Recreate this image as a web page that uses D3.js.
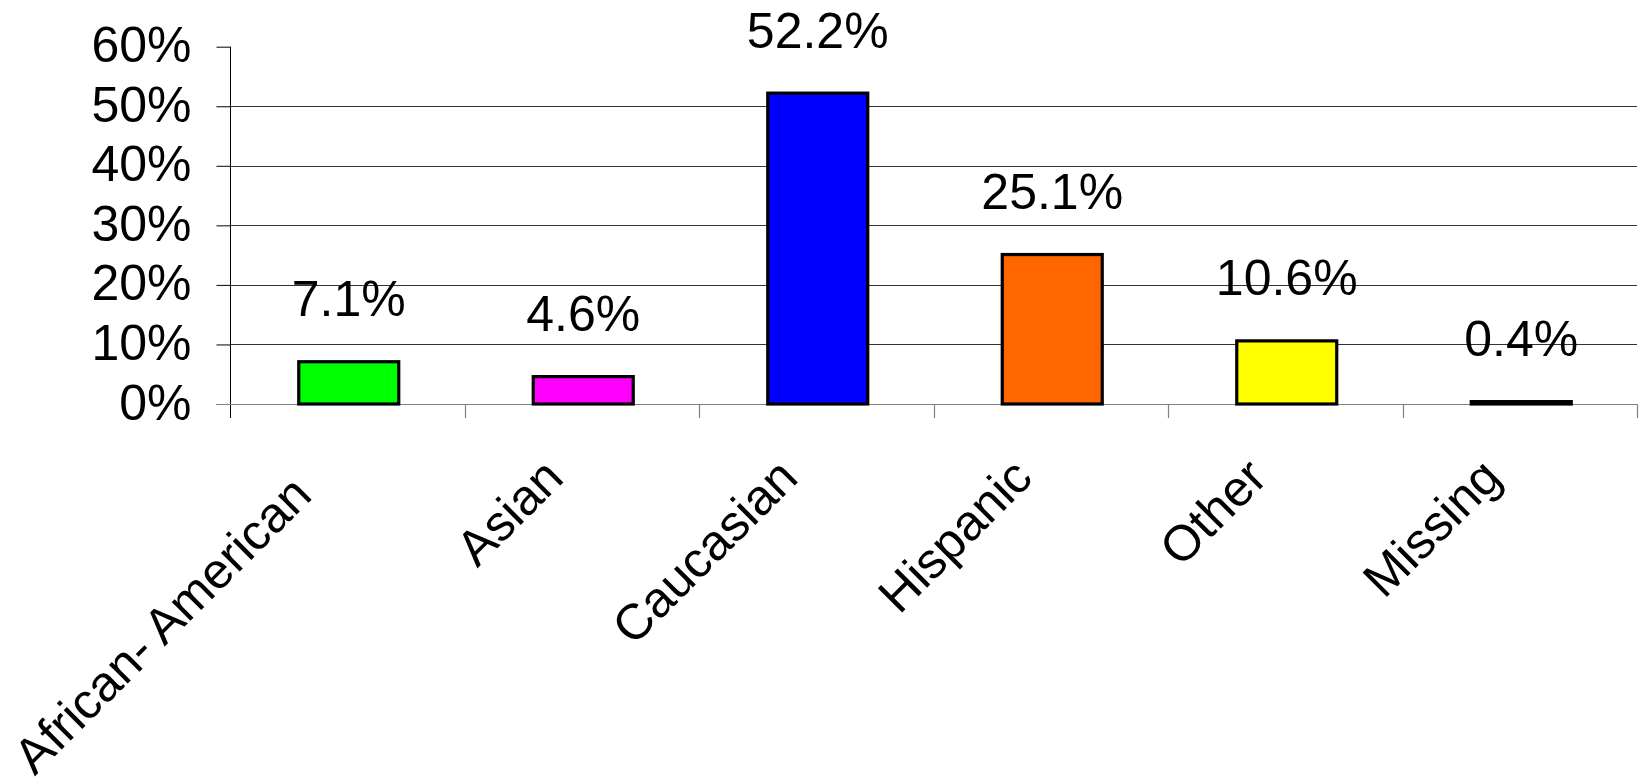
<!DOCTYPE html>
<html>
<head>
<meta charset="utf-8">
<script src="https://cdn.jsdelivr.net/npm/d3@7"></script>
<style>
  html, body { margin: 0; padding: 0; background: #fff; }
  svg { display: block; }
  text { font-family: "Liberation Sans", Arial, sans-serif; fill: #000; }
</style>
</head>
<body>
<script>
const categories = ["African- American", "Asian", "Caucasian", "Hispanic", "Other", "Missing"];
const values = [7.1, 4.6, 52.2, 25.1, 10.6, 0.4];
const colors = ["#00FF00", "#FF00FF", "#0000FF", "#FF6600", "#FFFF00", "#000000"];
const yTicks = [0, 10, 20, 30, 40, 50, 60];

(function () {
const W = 1650, H = 781;
const mLeft = 230, mRight = 1637, mTop = 46.7, mBottom = 404;

const svg = d3.select("body").append("svg").attr("width", W).attr("height", H);

const y = d3.scaleLinear().domain([0, 60]).range([mBottom, mTop]);
const xEdge = d3.scaleBand().domain(categories).range([mLeft, mRight]).padding(0);
const x = d3.scaleBand().domain(categories).range([mLeft, mRight])
  .paddingInner(0.5736).paddingOuter(0.2868);

// gridlines (not at 0 or 60)
svg.append("g").selectAll("line")
  .data(yTicks.filter(t => t > 0 && t < 60))
  .join("line")
  .attr("x1", mLeft).attr("x2", mRight)
  .attr("y1", d => Math.round(y(d)) + 0.5).attr("y2", d => Math.round(y(d)) + 0.5)
  .attr("stroke", "#333").attr("stroke-width", 1);

// y axis
const yAxis = d3.axisLeft(y).tickValues(yTicks).tickFormat(d => d + "%")
  .tickSize(14).tickPadding(25);
const gy = svg.append("g").attr("transform", `translate(${mLeft + 0.5},0)`).call(yAxis);
gy.select(".domain").remove();
gy.selectAll(".tick line").attr("stroke", "#000");
gy.selectAll(".tick text")
  .attr("font-size", 50)
  .attr("font-family", '"Liberation Sans", Arial, sans-serif')
  .attr("dy", "0.3em")
  .attr("fill", "#000");
svg.append("line").attr("x1", mLeft + 0.5).attr("x2", mLeft + 0.5)
  .attr("y1", mTop).attr("y2", mBottom + 14).attr("stroke", "#000").attr("stroke-width", 1);

// x axis line and category ticks
svg.append("line").attr("x1", mLeft - 14).attr("x2", mRight)
  .attr("y1", mBottom + 0.5).attr("y2", mBottom + 0.5)
  .attr("stroke", "#808080").attr("stroke-width", 1.2);
const edges = categories.map(c => xEdge(c)).concat([mRight]);
svg.append("g").selectAll("line").data(edges.slice(1)).join("line")
  .attr("x1", d => Math.round(d) + 0.5).attr("x2", d => Math.round(d) + 0.5)
  .attr("y1", mBottom).attr("y2", mBottom + 14)
  .attr("stroke", "#808080").attr("stroke-width", 1.2);

// bars
const data = categories.map((c, i) => ({ c, v: values[i], color: colors[i] }));
svg.append("g").selectAll("rect").data(data).join("rect")
  .attr("x", d => x(d.c) + 1.5)
  .attr("width", x.bandwidth())
  .attr("y", d => y(d.v))
  .attr("height", d => mBottom - y(d.v))
  .attr("fill", d => d.color)
  .attr("stroke", "#000").attr("stroke-width", 3.2);

// value labels
svg.append("g").selectAll("text").data(data).join("text")
  .attr("x", d => x(d.c) + x.bandwidth() / 2 + 1.5)
  .attr("y", d => y(d.v) - 45.5)
  .attr("text-anchor", "middle")
  .attr("font-size", 50)
  .text(d => d.v.toFixed(1) + "%");

// category labels rotated
const labels = svg.append("g").selectAll("text").data(categories).join("text")
  .attr("text-anchor", "end")
  .attr("font-size", 50)
  .attr("transform", c => `translate(${xEdge(c) + xEdge.bandwidth() / 2 - 16},${480}) rotate(-45)`)
  .text(c => c);
labels.each(function () {
  const L = this.getComputedTextLength();
  d3.select(this).attr("x", -Math.max(0, L - 370));
});
})();
</script>
</body>
</html>
